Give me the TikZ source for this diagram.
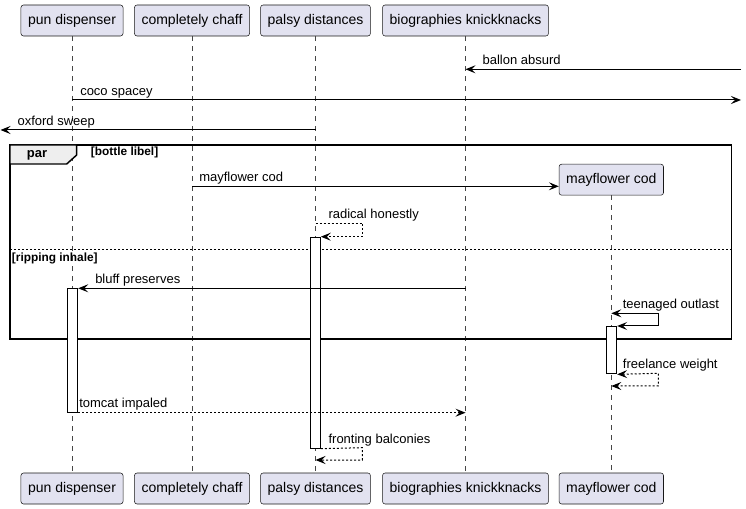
\documentclass[tikz,border=0pt]{standalone}
\usepackage{fontspec}
\setmainfont{Liberation Sans}
\usetikzlibrary{arrows.meta}

\definecolor{partfill}{HTML}{E2E2F0}
\definecolor{partline}{HTML}{181818}
\definecolor{tabfill}{HTML}{EEEEEE}

\tikzset{
  part/.style={draw=partline, fill=partfill, rounded corners=1.9pt, line width=0.4pt,
    minimum height=23.25pt, inner xsep=5.3pt, font=\fontsize{10.5}{12}\selectfont},
  lifeline/.style={draw=partline!80, line width=0.4pt, dash pattern=on 3.75pt off 3.75pt},
  msg/.style={line width=0.75pt, -{Stealth[length=7.5pt,width=6pt,inset=3pt]}},
  reply/.style={msg, dash pattern=on 1.5pt off 1.5pt},
  twotip/.style={{Stealth[length=7.5pt,width=6pt,inset=3pt]}-{Stealth[length=7.5pt,width=6pt,inset=3pt]}},
  lbl/.style={anchor=base west, inner sep=0pt, font=\fontsize{9.75}{11}\selectfont},
  grd/.style={anchor=base west, inner sep=0pt, font=\bfseries\fontsize{8.9}{10}\selectfont},
  act/.style={draw, fill=white, line width=0.75pt, minimum width=7.5pt, inner sep=0pt},
  frame/.style={draw, line width=1.1pt},
}

\begin{document}
\begin{tikzpicture}[x=0.75pt, y=-0.75pt]
\useasboundingbox (0,0) rectangle (746,509);

% Participantes
\foreach \n/\x/\t in {pd/72/pun dispenser, cc/192/completely chaff, ps/315.5/palsy distances, bk/465.5/biographies knickknacks}{
  \node[part] (\n-top) at (\x,20.5) {\t};
  \node[part] (\n-bot) at (\x,488.5) {\t};
  \draw[lifeline] (\n-top) -- (\n-bot);
}
\node[part] (mc-top) at (611.3,179.7) {mayflower cod};
\node[part] (mc-bot) at (611.3,488.5) {mayflower cod};
\draw[lifeline] (mc-top) -- (mc-bot);

% Bloque par
\coordinate (fr-nw) at (10,145);
\coordinate (fr-se) at (731.7,339);
\draw[frame] (fr-nw) rectangle (fr-se);
\draw[frame, fill=tabfill] (fr-nw) -- (76.7,145) -- (76.7,155) -- (66.7,164) -- (10,164) -- cycle;
\node[anchor=base west, inner sep=0pt, font=\bfseries\fontsize{9.75}{11}\selectfont] (parlbl) at (26.7,158) {par};
\node[grd] (g1) at (90.7,155.3) {[bottle libel]};
\draw[line width=0.75pt, dash pattern=on 1.5pt off 1.5pt] (10,250) -- (731.7,250);
\node[grd] (g2) at (11.7,261.3) {[ripping inhale]};

% Activaciones
\node[act, minimum height=158.25pt, anchor=north] (psA) at (315.3,236.7) {};
\node[act, minimum height=92.55pt, anchor=north] (pdA) at (72.7,288.3) {};
\node[act, minimum height=35.5pt, anchor=north] (mcA) at (611.7,326) {};

% Mensajes
\coordinate (inR) at (741,69.3);
\draw[msg] (inR) -- (bk-top |- inR);
\node[lbl] (m1) at (482.3,64.6) {ballon absurd};

\coordinate (outR) at (741,100);
\draw[msg] (pd-top |- outR) -- (outR);
\node[lbl] (m2) at (80,95.3) {coco spacey};

\coordinate (outL) at (0.5,130);
\draw[msg] (ps-top |- outL) -- (outL);
\node[lbl] (m3) at (17.3,125.5) {oxford sweep};

\draw[msg] (cc-top |- 0,186.3) -- ([yshift=-4.95pt]mc-top.west);
\node[lbl] (m4) at (199,181.7) {mayflower cod};

\coordinate (rhR) at (362.3,223.3);
\draw[reply] (ps-top |- rhR) -- (rhR) |- (psA.north east);
\node[lbl] (m5) at (328.3,218.8) {radical honestly};

\draw[msg] (bk-top |- pdA.north) -- (pdA.north east);
\node[lbl] (m6) at (95,283.7) {bluff preserves};

\coordinate (toR) at (658.3,313.3);
\draw[msg, twotip] (mc-top |- toR) -- (toR) |- (mcA.north east);
\node[lbl] (m7) at (622.5,308.7) {teenaged outlast};

\coordinate (fwR) at (658.3,373.3);
\coordinate (fwB) at (658.3,386);
\draw[reply, twotip] (mcA.south east) -- (fwR) -- (fwB) -- (mc-bot |- fwB);
\node[lbl] (m8) at (622.7,368.7) {freelance weight};

\draw[reply] (pdA.south east) -- (bk-top |- pdA.south);
\node[lbl] (m9) at (79,407) {tomcat impaled};

\coordinate (fbR) at (362.3,447.7);
\coordinate (fbB) at (362.3,460);
\draw[reply] (psA.south east) -- (fbR) -- (fbB) -- (ps-bot |- fbB);
\node[lbl] (m10) at (328.3,443) {fronting balconies};
\end{tikzpicture}
\end{document}
